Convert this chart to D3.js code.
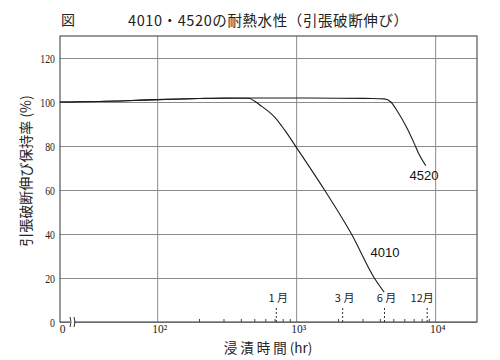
<!DOCTYPE html>
<html>
<head>
<meta charset="utf-8">
<script src="https://cdn.jsdelivr.net/npm/d3@7"></script>
<style>
  body { margin: 0; background: #fff; }
  svg { display: block; }
  .grid line { stroke: #8a8a8a; stroke-width: 1; }
  .grid path { display: none; }
  .tickLabel { font-family: "Liberation Serif", serif; font-size: 13px; fill: #222; }
  .cjk { font-family: "Noto Sans CJK JP", sans-serif; fill: #222; }
  .curve { fill: none; stroke: #1a1a1a; stroke-width: 1.1; }
  .seriesLabel { font-family: "Liberation Sans", Arial, sans-serif; font-size: 13px; fill: #111; }
</style>
</head>
<body>
<svg width="500" height="360"></svg>
<script>
// values
var hours4010 = [20, 60, 100, 200, 300, 450, 560, 700, 825, 1000, 1600, 2500, 3650, 4300];
var ret4010   = [100, 100.6, 101.1, 101.6, 101.8, 101.7, 98.2, 93.1, 87.3, 79.5, 60, 40, 20, 13.5];

var hours4520 = [20, 60, 100, 200, 500, 1000, 2000, 3500, 4300, 4800, 5360, 6160, 7070, 7670, 8570];
var ret4520   = [100, 100.6, 101.1, 101.6, 101.8, 101.8, 101.7, 101.6, 101.4, 100, 95.7, 89.1, 81.2, 76.1, 71];

var yTicks = [0, 20, 40, 60, 80, 100, 120];
var xMajor = [100, 1000, 10000];
var xMinor = [200, 300, 400, 500, 600, 700, 800, 900, 2000, 3000, 4000, 5000, 6000, 7000, 8000, 9000];
var monthLabels = ["1 月", "3 月", "6 月", "12月"];
var monthHours = [720, 2160, 4320, 8760];

var svg = d3.select("svg"),
    pL = 60, pR = 477, pT = 36, pB = 322; // plot box

var x = d3.scaleLog().domain([20, 20000]).range([pL, pR]);
var y = d3.scaleLinear().domain([0, 130]).range([pB, pT]);

// horizontal grid + y labels
var gy = svg.append("g").attr("class", "grid")
    .attr("transform", "translate(" + pL + ",0)")
    .call(d3.axisLeft(y).tickValues(yTicks).tickSize(-(pR - pL)).tickPadding(5));
gy.selectAll("text").attr("class", "tickLabel")
    .attr("textLength", function (d) { return String(d).length * 4.9; })
    .attr("lengthAdjust", "spacingAndGlyphs");

// vertical grid at the decades
var sup = {100: "10²", 1000: "10³", 10000: "10⁴"};
var gx = svg.append("g").attr("class", "grid")
    .attr("transform", "translate(0," + pB + ")")
    .call(d3.axisBottom(x).tickValues(xMajor).tickSize(-(pB - pT)).tickPadding(3)
          .tickFormat(function (d) { return sup[d]; }));
gx.selectAll("text").attr("class", "tickLabel").style("font-size", "11.5px").attr("dx", 2);

// small ticks on the time axis
var gm = svg.append("g").attr("class", "grid")
    .attr("transform", "translate(0," + pB + ")")
    .call(d3.axisBottom(x).tickValues(xMinor).tickSize(-3).tickFormat(""));
gm.selectAll("line").style("stroke", "#444");

// frame
svg.append("rect")
    .attr("x", pL).attr("y", pT)
    .attr("width", pR - pL).attr("height", pB - pT)
    .attr("fill", "none").attr("stroke", "#555").attr("stroke-width", 1.2);

// origin "0" under the x axis and the axis break
svg.append("text").attr("class", "tickLabel").style("font-size", "11.5px")
    .attr("x", pL + 2.5).attr("y", pB + 11).attr("text-anchor", "middle").text("0");
svg.append("rect").attr("x", 70).attr("y", pB - 2).attr("width", 4).attr("height", 4).attr("fill", "#fff");
svg.append("path")
    .attr("d", "M70,317 q2,5 0,10 M74,317 q2,5 0,10")
    .attr("fill", "none").attr("stroke", "#333").attr("stroke-width", 1);

// month markers
var months = monthHours.map(function (h, i) { return {h: h, label: monthLabels[i]}; });
svg.selectAll(".month").data(months).enter().append("line")
    .attr("x1", function (d) { return x(d.h); }).attr("x2", function (d) { return x(d.h); })
    .attr("y1", pB).attr("y2", pB - 16)
    .attr("stroke", "#333").attr("stroke-dasharray", "2,2");
svg.selectAll(".monthLabel").data(months).enter().append("text")
    .attr("class", "tickLabel").style("font-family", "'Noto Sans CJK JP', serif").style("font-size", "11px")
    .attr("x", function (d) { return x(d.h) + (d.h > 8000 ? -5 : 2); })
    .attr("y", pB - 20)
    .attr("text-anchor", "middle")
    .text(function (d) { return d.label; });

// curves
var line = d3.line()
    .x(function (d) { return x(d[0]); })
    .y(function (d) { return y(d[1]); })
    .curve(d3.curveMonotoneX);

svg.append("path").attr("class", "curve")
    .attr("d", line(d3.zip(hours4010, ret4010)));
svg.append("path").attr("class", "curve")
    .attr("d", line(d3.zip(hours4520, ret4520)));

svg.append("text").attr("class", "seriesLabel")
    .attr("x", x(4350)).attr("y", y(29.5)).attr("text-anchor", "middle").text("4010");
svg.append("text").attr("class", "seriesLabel")
    .attr("x", x(8300)).attr("y", y(64.5)).attr("text-anchor", "middle").text("4520");

// titles
svg.append("text").attr("class", "cjk").style("font-size", "14px")
    .attr("x", 61).attr("y", 25).text("図");
svg.append("text").attr("class", "cjk").style("font-size", "14.5px").style("letter-spacing", "0.6px")
    .attr("x", 128).attr("y", 26).text("4010・4520の耐熱水性（引張破断伸び）");

svg.append("text").attr("class", "cjk").style("font-size", "13.5px")
    .attr("x", 268).attr("y", 353).attr("text-anchor", "middle")
    .text("浸 漬 時 間 (hr)");

svg.append("text").attr("class", "cjk").style("font-size", "14px")
    .attr("transform", "translate(31,171) rotate(-90)")
    .attr("text-anchor", "middle")
    .text("引張破断伸び保持率 (%)");
</script>
</body>
</html>
